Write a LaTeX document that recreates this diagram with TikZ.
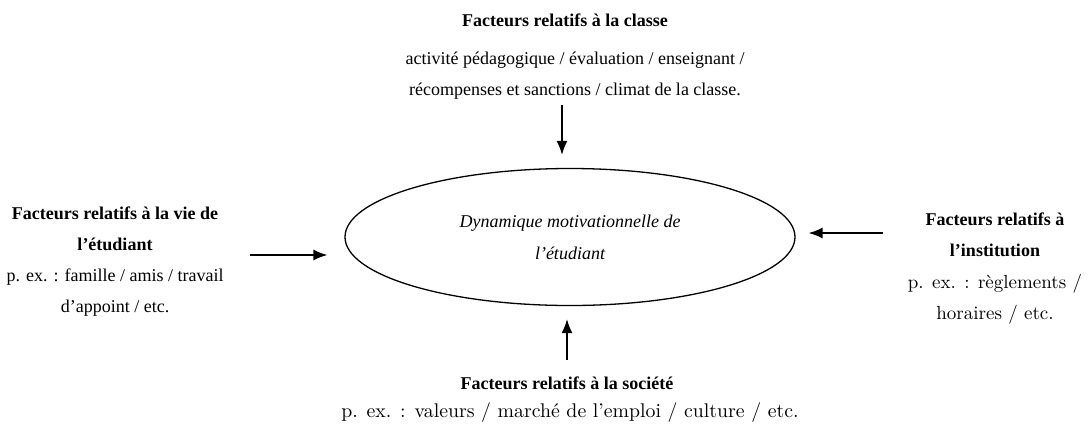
\documentclass[tikz,border=0pt]{standalone}
\usepackage{fontspec}
\newfontfamily\tnr{Liberation Serif}
\usetikzlibrary{arrows.meta,shapes.geometric}
\tikzset{
  titre/.style={font=\tnr\bfseries\fontsize{9}{15.5}\selectfont, align=center, inner sep=0pt},
  corps/.style={font=\tnr\fontsize{9}{15.5}\selectfont, align=center, inner sep=0pt},
  large/.style={font=\fontsize{9.5}{15.5}\selectfont, align=center, inner sep=0pt},
  fleche/.style={->, line width=0.7pt},
}
\begin{document}
\begin{tikzpicture}[>={Latex[length=7pt,width=5.5pt]}, x=0.5pt, y=-0.5pt]
\useasboundingbox (0,0) rectangle (1089,430);
% centre
\node[draw, ellipse, line width=0.65pt, minimum width=225pt, minimum height=68.5pt,
  font=\tnr\itshape\fontsize{9}{16}\selectfont, align=center] (dyn) at (570,237)
  {Dynamique motivationnelle de\\ l’étudiant};
% classe
\node[titre] (classe) at (565,20) {Facteurs relatifs à la classe};
\node[corps] (classetxt) at (575,76) {activité pédagogique / évaluation / enseignant /\\ récompenses et sanctions / climat de la classe.};
% vie de l'etudiant
\node[corps] (vie) at (115,262) {\bfseries Facteurs relatifs à la vie de\\ \bfseries l’étudiant\\ p. ex. : famille / amis / travail\\ d’appoint / etc.};
% institution
\node[titre] (inst) at (995,235) {Facteurs relatifs à\\ l’institution};
\node[large] (insttxt) at (995,299) {p. ex. : règlements /\\ horaires / etc.};
% societe
\node[titre] (soc) at (567,383) {Facteurs relatifs à la société};
\node[large, font=\fontsize{9.9}{15.5}\selectfont] (soctxt) at (570,413) {p. ex. : valeurs / marché de l’emploi / culture / etc.};
% fleches
\coordinate (haut) at (562,105);
\coordinate (gauche) at (250,255);
\coordinate (droite) at (883,233);
\coordinate (bas) at (567,360);
\draw[fleche, shorten >=6.5pt] (haut) -- (haut |- dyn.north);
\draw[fleche, shorten >=8.5pt] (gauche) -- (gauche -| dyn.west);
\draw[fleche, shorten >=6.5pt] (droite) -- (droite -| dyn.east);
\draw[fleche, shorten >=6.5pt] (bas) -- (bas |- dyn.south);
\end{tikzpicture}
\end{document}
